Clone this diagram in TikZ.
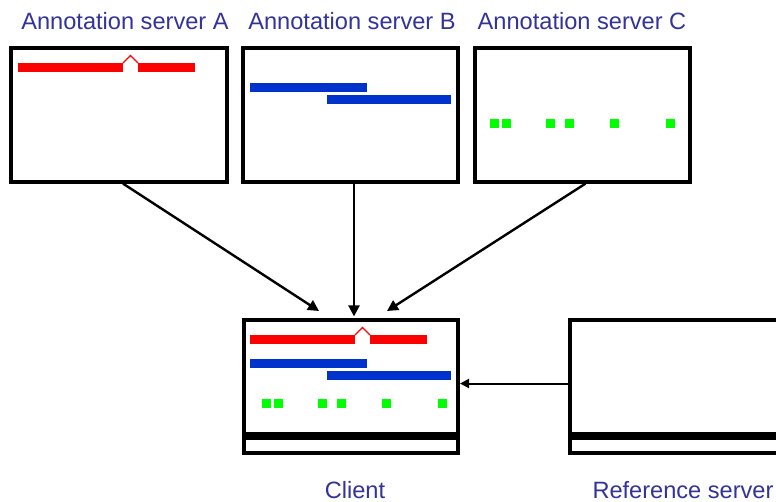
\documentclass[tikz,border=0pt]{standalone}
\usepackage{fontspec}
\setmainfont{Liberation Sans}
\usetikzlibrary{arrows.meta,calc}
\definecolor{lbl}{HTML}{333399}
\definecolor{rbar}{HTML}{FF0000}
\definecolor{bbar}{HTML}{0033CC}
\definecolor{gsq}{HTML}{00FF00}
\tikzset{
  panel/.style={draw=black,line width=3.2pt,fill=white,rectangle,inner sep=0pt},
  lbltext/.style={text=lbl,font=\fontsize{23.6}{26}\selectfont,inner sep=0pt,anchor=base},
  conn/.style={line width=2.4pt,-{Triangle[length=11pt,width=11pt]}},
  hconn/.style={line width=2pt,-{Triangle[length=9pt,width=9pt]}},
}
\begin{document}
\begin{tikzpicture}[x=1pt,y=-1pt]
\useasboundingbox (0,0) rectangle (776,501);
\clip (0,0) rectangle (776,501);
\fill[white] (0,0) rectangle (776,501);

% labels
\node[lbltext] (la) at (125,29) {Annotation server A};
\node[lbltext] (lb) at (352,29) {Annotation server B};
\node[lbltext] (lc) at (582,29) {Annotation server C};
\node[lbltext] (lcl) at (355,498) {Client};
\node[lbltext] (lref) at (683,498) {Reference server};

% panels
\node[panel,minimum width=216pt,minimum height=134pt] (A) at (119,115) {};
\node[panel,minimum width=215pt,minimum height=134pt] (B) at (350.5,115) {};
\node[panel,minimum width=215pt,minimum height=134pt] (C) at (582.5,115) {};
\node[panel,minimum width=214pt,minimum height=133pt] (cl) at (351,386.5) {};
\node[panel,minimum width=220pt,minimum height=133pt] (ref) at (680,386.5) {};

% server A contents
\fill[rbar] (18,63) rectangle (123,72);
\fill[rbar] (138,63) rectangle (195,72);
\draw[rbar,line width=1.2pt] (123,63) -- (130.5,55.5) -- (138,63);

% server B contents
\fill[bbar] (250,83) rectangle (367,92);
\fill[bbar] (327,95) rectangle (451,104);

% server C contents
\foreach \x in {490,502,546,565,610,666}
  \fill[gsq] (\x,119) rectangle ++(9,9);

% client contents
\fill[rbar] (250,335) rectangle (355,344);
\fill[rbar] (370,335) rectangle (427,344);
\draw[rbar,line width=1.2pt] (355,335) -- (362.5,327.5) -- (370,335);
\fill[bbar] (250,359) rectangle (367,368);
\fill[bbar] (327,371) rectangle (451,380);
\foreach \x in {262,274,318,337,382,438}
  \fill[gsq] (\x,399) rectangle ++(9,9);
\fill[black] (244,431.5) rectangle (458,439.5);

% reference server contents
\fill[black] (570,431.5) rectangle (790,439.5);

% connectors
\coordinate (sa) at ($(A.south)+(4,0)$);
\coordinate (ta) at (319,311);
\coordinate (tb) at ($(cl.north)+(3,-2)$);
\coordinate (sc) at ($(C.south)+(3,0)$);
\coordinate (tc) at (387,311);
\coordinate (sref) at ($(ref.west)+(0,-3)$);
\coordinate (tref) at (460,383.5);
\draw[conn] (sa) -- (ta);
\draw[conn] (B.south -| tb) -- (tb);
\draw[conn] (sc) -- (tc);
\draw[hconn] (sref) -- (tref);
\end{tikzpicture}
\end{document}
